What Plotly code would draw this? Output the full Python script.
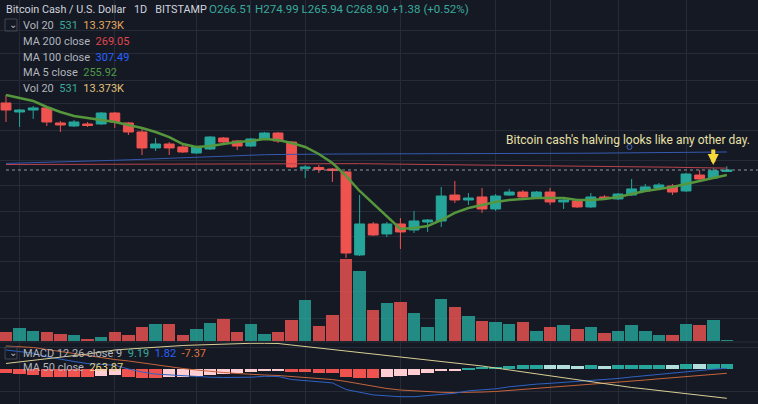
import numpy as np
import plotly.graph_objects as go

# --- Dados do gráfico (BCH/USD diário, BITSTAMP) ---
dias = list(range(54))

abertura = [402.0, 380.8, 385.4, 390.2, 356.6, 350.2, 354.4, 354.4, 378.5, 356.6,
            337.8, 306.9, 314.3, 308.8, 297.8, 305.0, 325.8, 320.0, 310.5, 323.9,
            335.7, 318.1, 271.4, 273.0, 270.5, 265.8, 161.5, 194.5, 183.2, 194.5,
            187.6, 196.8, 198.0, 231.4, 224.6, 228.7, 212.8, 231.4, 235.6, 228.7,
            235.6, 222.0, 223.3, 215.4, 228.7, 226.0, 231.4, 237.1, 241.4, 244.3,
            237.1, 260.9, 256.3, 266.51]
maxima = [421.7, 387.8, 394.8, 394.8, 360.9, 363.0, 358.7, 380.8, 380.8, 358.7,
          343.9, 325.8, 318.1, 312.4, 310.5, 329.7, 327.7, 321.9, 325.8, 337.8,
          337.8, 320.0, 277.1, 277.1, 272.2, 267.3, 231.4, 196.8, 196.8, 201.6,
          210.3, 200.4, 242.9, 251.7, 234.2, 241.4, 232.8, 240.0, 238.5, 237.1,
          241.4, 226.0, 224.6, 234.2, 231.4, 234.2, 254.8, 247.3, 248.7, 247.3,
          264.2, 268.9, 272.2, 274.99]
minima = [358.7, 348.1, 365.3, 350.2, 337.8, 348.1, 348.1, 352.3, 346.0, 331.7,
          294.2, 301.4, 294.2, 297.8, 296.0, 303.2, 316.2, 303.2, 308.8, 321.9,
          316.2, 272.2, 256.3, 264.2, 250.3, 158.6, 160.5, 181.0, 179.9, 167.4,
          184.3, 185.4, 191.0, 220.6, 218.0, 207.8, 210.3, 230.0, 226.0, 227.3,
          218.0, 212.8, 214.1, 214.1, 224.6, 224.6, 230.0, 235.6, 240.0, 231.4,
          235.6, 250.3, 254.8, 265.94]
fechamento = [385.4, 385.4, 390.2, 358.7, 352.3, 358.7, 351.2, 378.5, 358.7, 337.8,
              306.9, 314.3, 306.9, 299.6, 308.8, 327.7, 318.1, 310.5, 323.9, 335.7,
              320.0, 273.8, 273.8, 269.7, 268.1, 163.4, 194.5, 182.1, 194.5, 185.4,
              198.0, 199.2, 230.0, 224.6, 227.3, 212.8, 230.0, 235.6, 228.7, 235.6,
              222.0, 224.6, 215.4, 228.7, 226.6, 232.8, 240.0, 242.9, 245.8, 235.6,
              262.5, 254.8, 267.52, 268.90]
volume = [9300, 12700, 10300, 8700, 7000, 5700, 2300, 3700, 9000, 6300,
          14300, 17000, 16700, 6300, 12300, 18300, 21700, 8700, 16700, 7000,
          9300, 20700, 40700, 15300, 25700, 82000, 70000, 31000, 37700, 39300,
          28300, 13700, 42300, 34300, 25000, 20000, 19300, 16700, 19000, 10300,
          14000, 16000, 11700, 13700, 7700, 10000, 16000, 9700, 5700, 6300,
          17000, 16000, 20700, 531]

ma5 = [421.7, 414.2, 406.9, 392.4, 380.8, 371.8, 367.4, 363.0, 358.7, 352.3,
       346.0, 337.8, 327.7, 314.3, 308.8, 310.5, 314.3, 318.1, 320.0, 323.9,
       321.9, 316.2, 308.8, 296.0, 280.4, 259.5, 237.1, 219.3, 204.1, 188.7,
       189.8, 192.1, 199.2, 207.8, 214.1, 218.0, 222.0, 224.6, 226.0, 227.3,
       227.3, 227.3, 224.6, 224.6, 226.0, 228.7, 232.8, 237.1, 240.0, 242.9,
       247.3, 251.7, 256.3, 260.9]
ma100 = [279.7, 280.2, 280.7, 281.2, 281.9, 282.7, 283.4, 284.2, 285.0, 285.8,
         286.8, 287.7, 288.7, 289.6, 290.6, 291.5, 292.4, 293.3, 294.2, 294.7,
         295.1, 295.6, 295.7, 295.8, 295.9, 296.0, 296.0, 296.0, 296.1, 296.1,
         296.1, 296.2, 296.2, 296.3, 296.3, 296.4, 296.5, 296.6, 296.7, 296.8,
         296.9, 297.1, 297.3, 297.4, 297.6, 297.8, 298.1, 298.3, 298.6, 298.8,
         299.1, 299.3, 299.5, 299.6]
ma200 = [277.9, 278.0, 278.0, 278.1, 278.1, 278.2, 278.3, 278.4, 278.5, 278.6,
         278.7, 278.8, 278.9, 278.9, 279.0, 279.1, 279.2, 279.3, 279.4, 279.5,
         279.6, 279.7, 279.7, 279.7, 279.6, 279.5, 279.3, 279.0, 278.8, 278.5,
         278.2, 277.9, 277.6, 277.4, 277.1, 276.8, 276.6, 276.3, 276.1, 275.9,
         275.7, 275.5, 275.2, 275.0, 274.7, 274.4, 274.2, 273.9, 273.7, 273.4,
         273.0, 272.6, 272.3, 271.9]
ma50 = [324.8, 327.4, 330.0, 332.6, 336.1, 338.8, 341.4, 344.9, 348.4, 350.1,
        351.9, 353.6, 355.4, 356.3, 357.1, 358.0, 358.9, 359.8, 360.1, 360.1,
        359.8, 357.1, 354.5, 351.9, 349.3, 346.6, 344.0, 341.4, 338.8, 336.1,
        333.5, 330.9, 328.3, 325.6, 323.0, 320.4, 316.9, 313.4, 309.9, 306.4,
        302.9, 299.4, 295.9, 292.4, 288.9, 285.4, 282.8, 280.2, 277.5, 274.9,
        272.3, 269.7, 267.0, 263.87]

# MACD 12 26 9
macd = [35.5, 32.8, 29.6, 23.0, 18.0, 14.4, 10.5, 8.5, 7.5, 0.6,
        -5.0, -8.8, -10.5, -12.0, -13.6, -14.5, -15.1, -15.1, -14.5, -12.9,
        -13.2, -18.8, -20.6, -23.0, -25.0, -37.2, -42.3, -47.1, -48.8, -50.4,
        -50.4, -48.6, -46.0, -44.0, -39.6, -38.1, -35.9, -32.2, -29.3, -27.3,
        -25.8, -24.1, -23.0, -21.0, -19.4, -16.9, -14.1, -11.7, -9.4, -7.4,
        -3.9, -1.9, 0.1, 1.82]
sinal = [42.9, 42.0, 40.1, 36.4, 32.8, 29.1, 25.4, 20.8, 18.0, 15.3,
         11.6, 7.9, 4.2, 1.5, -1.3, -4.0, -5.9, -7.7, -9.6, -10.5,
         -11.4, -13.2, -15.1, -16.9, -18.8, -22.4, -27.0, -31.6, -35.3, -38.1,
         -39.9, -41.2, -42.3, -42.7, -42.7, -41.8, -40.8, -39.0, -37.2, -35.3,
         -33.5, -31.6, -29.8, -28.0, -26.1, -23.9, -21.9, -19.7, -17.5, -15.3,
         -13.1, -10.9, -9.0, -7.37]
histograma = [-7.4, -9.2, -10.5, -13.4, -14.7, -14.8, -15.0, -12.3, -10.5, -14.7,
              -16.6, -16.8, -14.7, -13.4, -12.3, -10.5, -9.2, -7.4, -5.0, -2.4,
              -1.8, -5.5, -5.6, -6.1, -6.2, -14.7, -15.3, -15.5, -13.4, -12.3,
              -10.5, -7.4, -3.7, -1.3, 3.1, 3.7, 5.0, 6.8, 7.9, 8.0,
              7.8, 7.6, 6.8, 7.0, 6.7, 7.0, 7.8, 8.0, 8.1, 7.9,
              9.2, 8.9, 9.1, 9.19]

# linhas de grade (dias marcados) e níveis de preço
grade_x = [1, 8, 14, 18, 22, 29, 36, 40, 45, 50]
niveis_preco = [110, 130, 155, 180, 210, 245, 285, 340, 400, 460, 540, 620]
niveis_macd = [-40, 40]

dia_halving = 52

# --- Estilo ---
W, H = 758, 404
fundo = '#151924'
grade = '#262b37'
verde = '#26a69a'
vermelho = '#ef5350'
texto = '#b2b5be'
fonte = 'Roboto'
base_macd = 342  # pixel onde começa o painel do MACD
dom_macd = 1 - base_macd / H


def rotulo(x_px, y_px, txt, cor=texto, tam=11, fam=fonte):
    """Texto fixo em coordenadas de pixel da página."""
    return dict(x=x_px / W, y=1 - y_px / H, xref='paper', yref='paper', text=txt,
                showarrow=False, xanchor='left', yanchor='middle',
                font=dict(family=fam, size=tam, color=cor))


def caixa(x0, y0, x1, y1):
    return dict(type='rect', xref='paper', yref='paper', x0=x0 / W, x1=x1 / W,
                y0=1 - y1 / H, y1=1 - y0 / H, line=dict(color='#434651', width=1))


def cor_hist(vals):
    cores = []
    for i, v in enumerate(vals):
        anterior = vals[i - 1] if i > 0 else v + 1
        if v >= 0:
            cores.append(verde if v > anterior else '#b2dfdb')
        else:
            cores.append('#ffcdd2' if v > anterior else vermelho)
    return cores


fig = go.Figure()

# Volume (eixo base do painel de preço)
cores_vol = ['rgba(38,166,154,0.82)' if c >= o else 'rgba(239,83,80,0.82)'
             for o, c in zip(abertura, fechamento)]
fig.add_trace(go.Bar(x=dias, y=volume, width=0.92, marker=dict(color=cores_vol, line_width=0),
                     xaxis='x', yaxis='y', hoverinfo='skip'))

# Médias móveis
fig.add_trace(go.Scatter(x=dias, y=ma200, mode='lines', line=dict(color='#b9434c', width=1),
                         xaxis='x', yaxis='y2', hoverinfo='skip'))
fig.add_trace(go.Scatter(x=dias, y=ma100, mode='lines', line=dict(color='#3559b0', width=1),
                         xaxis='x', yaxis='y2', hoverinfo='skip'))

# Linha pontilhada do último preço
fig.add_trace(go.Scatter(x=[dias[0], 55.3], y=[fechamento[-1]] * 2, mode='lines',
                         line=dict(color='#8f97a3', width=1, dash='dot'),
                         xaxis='x', yaxis='y2', hoverinfo='skip'))

# Candles
fig.add_trace(go.Candlestick(
    x=dias, open=abertura, high=maxima, low=minima, close=fechamento,
    increasing=dict(line=dict(color=verde, width=1), fillcolor=verde),
    decreasing=dict(line=dict(color=vermelho, width=1), fillcolor=vermelho),
    whiskerwidth=0, xaxis='x', yaxis='y2', hoverinfo='skip'))

fig.add_trace(go.Scatter(x=dias, y=ma5, mode='lines', line=dict(color='#56963c', width=2.5),
                         xaxis='x', yaxis='y2', hoverinfo='skip'))

# Painel MACD
fig.add_trace(go.Bar(x=dias, y=histograma, width=0.92,
                     marker=dict(color=cor_hist(histograma), line_width=0),
                     xaxis='x2', yaxis='y3', hoverinfo='skip'))
fig.add_trace(go.Scatter(x=dias, y=sinal, mode='lines', line=dict(color='#c4643c', width=1),
                         xaxis='x2', yaxis='y3', hoverinfo='skip'))
fig.add_trace(go.Scatter(x=dias, y=macd, mode='lines', line=dict(color='#2f62c4', width=1),
                         xaxis='x2', yaxis='y3', hoverinfo='skip'))
fig.add_trace(go.Scatter(x=dias, y=ma50, mode='lines', line=dict(color='#d9cf94', width=1),
                         xaxis='x2', yaxis='y4', hoverinfo='skip'))

# --- Textos (legendas do TradingView) ---
var = fechamento[-1] - fechamento[-2]
pct = var / fechamento[-2] * 100
ohlc = (f'O{abertura[-1]:.2f} H{maxima[-1]:.2f} L{minima[-1]:.2f} '
        f'C{fechamento[-1]:.2f} {var:+.2f} ({pct:+.2f}%)')
vol_txt = (f"Vol 20  <span style='color:#3aa99c'>{volume[-1]}</span>  "
           f"<span style='color:#e3a95e'>13.373K</span>")

anotacoes = [
    rotulo(4, 9, 'Bitcoin Cash / U.S. Dollar   1D   BITSTAMP', '#d1d4dc', 10.8),
    rotulo(207, 9, ohlc, '#3aa99c', 11.5),
    rotulo(21, 25, vol_txt),
    rotulo(21, 42, "MA 200 close  <span style='color:#e0474f'>269.05</span>"),
    rotulo(21, 57, "MA 100 close  <span style='color:#2962ff'>307.49</span>"),
    rotulo(21, 73, "MA 5 close  <span style='color:#4f9a48'>255.92</span>"),
    rotulo(21, 89, vol_txt.replace('#e3a95e', '#e1c27a')),
    rotulo(21, 353, "MACD 12 26 close 9  "
                    f"<span style='color:#3aa99c'>{histograma[-1]:.2f}</span>  "
                    f"<span style='color:#2962ff'>{macd[-1]:.2f}</span>  "
                    f"<span style='color:#e0743a'>{sinal[-1]:.2f}</span>"),
    rotulo(21, 367, f"MA 50 close  <span style='color:#e6d27a'>{ma50[-1]:.2f}</span>"),
    rotulo(6.5, 24, '⌄', texto, 10, 'DejaVu Sans'),
    rotulo(6.5, 352, '⌄', texto, 10, 'DejaVu Sans'),
    dict(x=752 / W, y=1 - 140 / H, xref='paper', yref='paper',
         text="Bitcoin cash's halving looks like any other day.", showarrow=False,
         xanchor='right', yanchor='middle', font=dict(family=fonte, size=12, color='#e8e0a6')),
    # seta amarela sobre o dia do halving
    dict(x=dia_halving, y=np.log10(maxima[dia_halving]), xref='x', yref='y2', text='',
         showarrow=True, ax=0, ay=-20, arrowhead=2, arrowsize=0.55, arrowwidth=4,
         arrowcolor='#f6d83a', standoff=3),
]

formas = [
    caixa(5, 19, 17, 31),
    caixa(5, 347, 17, 359),
    dict(type='line', xref='paper', yref='paper', x0=0, x1=1, y0=dom_macd, y1=dom_macd,
         line=dict(color='#2a2e39', width=1)),
    # pequeno marcador de âncora do texto
    dict(type='circle', xref='paper', yref='paper', x0=627 / W, x1=632 / W,
         y0=1 - 149.5 / H, y1=1 - 144.5 / H, line=dict(color='#3d64b8', width=1)),
]

eixo_oculto = dict(showticklabels=False, zeroline=False, showline=False, ticks='')

fig.update_layout(
    width=W, height=H, margin=dict(l=0, r=0, t=0, b=0),
    paper_bgcolor=fundo, plot_bgcolor=fundo, showlegend=False,
    boxgap=0.27, boxgroupgap=0, bargap=0,
    xaxis=dict(domain=[0, 1], range=[-0.44, 55.29], tickvals=grade_x, showgrid=True,
               gridcolor=grade, gridwidth=1, anchor='y', rangeslider=dict(visible=False), **eixo_oculto),
    yaxis=dict(domain=[dom_macd, 1], range=[-1000, 341000], showgrid=False, anchor='x', **eixo_oculto),
    yaxis2=dict(overlaying='y', anchor='x', type='log', range=[np.log10(95.8), np.log10(745.7)],
                tickvals=niveis_preco, showgrid=True, gridcolor=grade, **eixo_oculto),
    xaxis2=dict(domain=[0, 1], matches='x', anchor='y3', tickvals=grade_x, showgrid=True,
                gridcolor=grade, rangeslider=dict(visible=False), **eixo_oculto),
    yaxis3=dict(domain=[0, dom_macd], range=[-63.8, 50.2], anchor='x2', tickvals=niveis_macd,
                showgrid=True, gridcolor=grade, **eixo_oculto),
    yaxis4=dict(overlaying='y3', anchor='x2', range=[253.9, 362.4], showgrid=False, **eixo_oculto),
    annotations=anotacoes,
    shapes=formas,
)

# remove a margem padrão da página para o gráfico ocupar a janela toda
fig.write_html('out.html', config={'displayModeBar': False},
               post_script="document.body.style.margin='0';")
